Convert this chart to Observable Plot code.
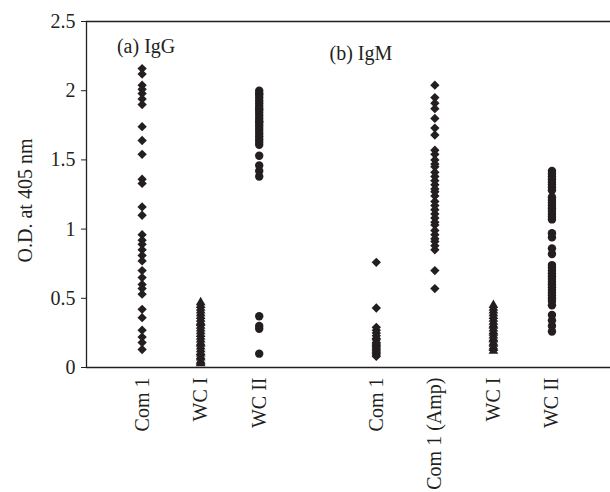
<!DOCTYPE html>
<html><head><meta charset="utf-8">
<script src="https://cdn.jsdelivr.net/npm/d3@7"></script>
<script src="https://cdn.jsdelivr.net/npm/@observablehq/plot@0.6"></script>
<style>body{margin:0;background:#fff} svg{display:block}</style>
</head><body><div id="chart"></div>
<script>
// ---- data ----
const panels = ["IgG","IgG","IgG","IgM","IgM","IgM","IgM"];
const categories = ["Com 1","WC I","WC II","Com 1","Com 1 (Amp)","WC I","WC II"];
const igG_com1 = [2.16,2.12,2.04,2.01,1.98,1.94,1.90,1.74,1.64,1.54,1.36,1.33,1.16,1.10,0.96,0.92,0.89,0.85,0.81,0.77,0.70,0.65,0.60,0.57,0.53,0.42,0.36,0.27,0.22,0.18,0.13];
const igG_wc1 = [0.47,0.45,0.43,0.41,0.39,0.37,0.35,0.33,0.32,0.30,0.28,0.26,0.24,0.22,0.20,0.18,0.17,0.15,0.13,0.11,0.10,0.08,0.07,0.05,0.04,0.03];
const igG_wc2 = [2.00,1.98,1.97,1.95,1.93,1.91,1.89,1.87,1.86,1.84,1.82,1.80,1.78,1.77,1.75,1.73,1.71,1.69,1.67,1.65,1.63,1.61,1.53,1.46,1.42,1.38,0.37,0.30,0.28,0.10];
const igM_com1 = [0.76,0.43,0.29,0.27,0.25,0.23,0.21,0.20,0.18,0.17,0.16,0.15,0.14,0.13,0.12,0.11,0.10,0.09,0.08];
const igM_com1amp = [2.04,1.95,1.91,1.87,1.80,1.73,1.68,1.57,1.54,1.50,1.47,1.45,1.41,1.38,1.35,1.32,1.29,1.27,1.24,1.20,1.17,1.14,1.11,1.08,1.05,1.03,0.99,0.96,0.93,0.91,0.88,0.85,0.70,0.57];
const igM_wc1 = [0.45,0.43,0.41,0.39,0.37,0.35,0.33,0.31,0.30,0.28,0.26,0.25,0.23,0.21,0.20,0.18,0.17,0.15,0.14,0.12];
const igM_wc2 = [1.42,1.40,1.38,1.36,1.34,1.32,1.30,1.28,1.23,1.21,1.19,1.17,1.15,1.13,1.11,1.09,1.07,0.97,0.94,0.86,0.82,0.74,0.72,0.70,0.68,0.66,0.64,0.62,0.60,0.58,0.56,0.54,0.52,0.50,0.48,0.45,0.38,0.34,0.30,0.26];
const seriesValues = [igG_com1, igG_wc1, igG_wc2, igM_com1, igM_com1amp, igM_wc1, igM_wc2];
const yTicks = [0, 0.5, 1, 1.5, 2, 2.5];
const yLabel = "O.D. at 405 nm";
const panelLabels = ["(a) IgG", "(b) IgM"];
const panelLabelX = [0.57, 4.2];
const panelLabelY = [2.32, 2.27];

// ---- build table ----
const slot = (i) => i + (panels[i] === "IgM" ? 2 : 1);
const rows = [];
categories.forEach((c, i) => seriesValues[i].forEach(v => rows.push({pos: slot(i), cat: c, v})));
const tickPositions = categories.map((c, i) => slot(i));
const tickText = new Map(tickPositions.map((p, i) => [p, categories[i]]));
const annotations = panelLabels.map((t, i) => ({t, x: panelLabelX[i], y: panelLabelY[i]}));

const ink = "#231f20";
const xDomain = [0.05, 9];
const chart = Plot.plot({
  width: 610, height: 492,
  marginLeft: 86, marginRight: 0, marginTop: 21, marginBottom: 125,
  style: {fontFamily: "'Liberation Serif', 'DejaVu Serif', serif", fontSize: "20px", color: ink, background: "#fff", overflow: "visible"},
  x: {domain: xDomain, axis: null},
  y: {domain: [0, 2.5], axis: null},
  marks: [
    Plot.ruleY([0, 2.5], {stroke: ink, strokeWidth: 1.3}),
    Plot.ruleX([xDomain[0]], {stroke: ink, strokeWidth: 1.3}),
    Plot.axisY({ticks: yTicks, tickFormat: d => String(d), tickSize: 5, tickPadding: 6, stroke: ink, fontSize: 20, label: null}),
    Plot.text([yLabel], {frameAnchor: "left", rotate: -90, dx: -61, dy: 6, textAnchor: "middle", fill: ink, fontSize: 20}),
    Plot.axisX({ticks: tickPositions, tickFormat: d => tickText.get(d), tickSize: 0, tickRotate: -90, tickPadding: 10, fontSize: 20, label: null}),
    Plot.dot(rows, {filter: d => d.cat.startsWith("Com"), x: "pos", y: "v", symbol: "diamond2", r: 4.2, fill: ink, stroke: "none"}),
    Plot.dot(rows, {filter: d => d.cat === "WC I", x: "pos", y: "v", symbol: "triangle", r: 3.6, fill: ink, stroke: "none"}),
    Plot.dot(rows, {filter: d => d.cat === "WC II", x: "pos", y: "v", symbol: "circle", r: 4.2, fill: ink, stroke: "none"}),
    Plot.text(annotations, {x: "x", y: "y", text: "t", textAnchor: "start", fill: ink, fontSize: 20})
  ]
});
document.getElementById("chart").append(chart);
</script>
</body></html>
